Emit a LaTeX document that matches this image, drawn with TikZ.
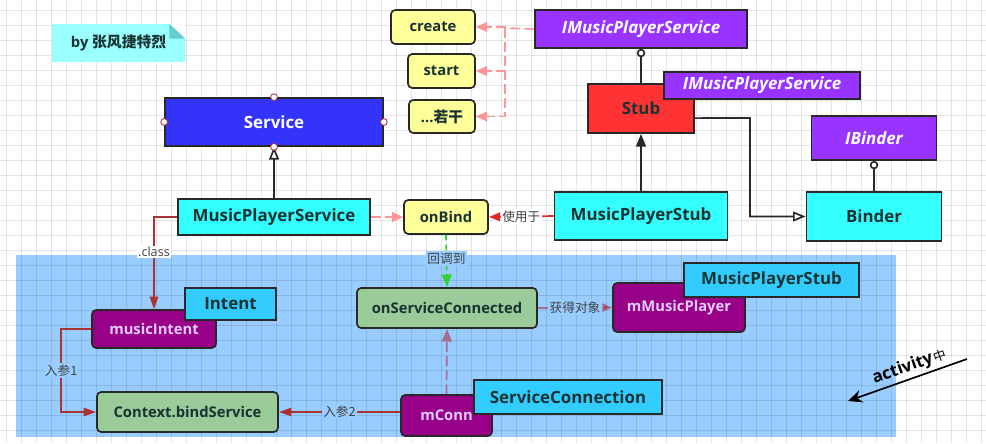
\documentclass[tikz,border=0pt]{standalone}
\usepackage{fontspec}
\setmainfont{Open Sans}
\newfontfamily\cjk{Noto Sans CJK SC}
\usetikzlibrary{arrows.meta,positioning,calc}
\definecolor{areablue}{RGB}{153,204,255}
\definecolor{classblue}{RGB}{51,51,250}
\definecolor{aqua}{RGB}{51,255,255}
\definecolor{noteaqua}{RGB}{153,255,255}
\definecolor{notefold}{RGB}{102,204,204}
\definecolor{methodyellow}{RGB}{255,255,153}
\definecolor{ifacepurple}{RGB}{153,51,255}
\definecolor{stubred}{RGB}{255,51,51}
\definecolor{typesky}{RGB}{51,204,255}
\definecolor{objmagenta}{RGB}{153,0,136}
\definecolor{callgreen}{RGB}{153,204,153}
\definecolor{inktext}{RGB}{25,50,50}
\definecolor{edgeline}{RGB}{40,40,40}
\definecolor{pinkline}{RGB}{255,150,150}
\definecolor{darkredline}{RGB}{170,50,50}
\definecolor{useline}{RGB}{230,40,40}
\definecolor{mauveline}{RGB}{165,110,145}
\definecolor{callline}{RGB}{51,210,51}
\definecolor{lightlilac}{RGB}{225,205,255}

\begin{document}
\begin{tikzpicture}[x=1cm, y=-1cm,
    wh/.style 2 args={minimum width=#1cm, minimum height=#2cm},
    box/.style={draw=edgeline, line width=1.2pt, inner sep=0pt, text=inktext,
      font=\bfseries\fontsize{12}{14}\selectfont},
    class/.style={box, fill=aqua},
    iface/.style={box, fill=ifacepurple, text=white,
      font=\bfseries\itshape\fontsize{12}{14}\selectfont},
    method/.style={box, fill=methodyellow, rounded corners=3pt,
      font=\bfseries\fontsize{10.5}{12}\selectfont},
    call/.style={method, fill=callgreen},
    object/.style={method, fill=objmagenta, text=lightlilac},
    typetag/.style={box, fill=typesky},
    edgelabel/.style={font=\cjk\fontsize{9}{11}\selectfont, text=black!75, inner sep=1pt},
    uml/.style={draw=edgeline, line width=1.2pt},
    hollowtip/.style={uml, -{Triangle[open, length=9pt, width=7pt, fill=white]}},
    solidtip/.style={uml, -{Triangle[length=9pt, width=7pt]}},
    lollipop/.style={uml, {Circle[open, length=6pt, width=6pt, fill=white]}-},
    pinkdash/.style={draw=pinkline, line width=1.2pt, dash pattern=on 7pt off 3pt},
    pinktip/.style={-{Triangle[length=8pt, width=7pt]}},
    refline/.style={draw=darkredline, line width=1.2pt, -{Triangle[length=9pt, width=6pt]}}]

  \useasboundingbox (0,0) rectangle (24.65,11.075);
  \fill[white] (0,0) rectangle (24.65,11.075);

  % activity area
  \fill[areablue] (0.4,6.375) rectangle (22.4,10.925);

  % background grid
  \foreach \k in {0,...,65}
    \draw[black, draw opacity=0.1, line width=0.5pt] ({0.15+0.375*\k},0) -- ++(0,11.075);
  \foreach \k in {0,...,28}
    \draw[black, draw opacity=0.1, line width=0.5pt] (0,{0.25+0.375*\k}) -- ++(24.65,0);

  % credit note
  \node[fill=noteaqua, wh={3.325}{0.95}, text=inktext,
    font=\bfseries\fontsize{10.5}{12}\selectfont] (credit) at (2.9625,1.075) {by {\cjk 张风捷特烈}};
  \fill[white] ([xshift=-0.4cm]credit.north east) -- (credit.north east) -- ([yshift=-0.375cm]credit.north east) -- cycle;
  \fill[notefold] ([xshift=-0.4cm]credit.north east) -- ([yshift=-0.375cm]credit.north east) -- ([shift={(-0.4cm,-0.375cm)}]credit.north east) -- cycle;

  % classes
  \node[box, fill=classblue, text=white, wh={5.45}{1.2}] (service) at (6.85,3.05) {Service};
  \node[class, wh={4.8}{0.9}] (mps) at (6.85,5.425) {MusicPlayerService};
  \node[iface, wh={5.3}{0.95}] (imps) at (16.025,0.725) {IMusicPlayerService};
  \node[box, fill=stubred, wh={2.65}{1.225}] (stub) at (16.025,2.7125) {Stub};
  \node[iface, wh={4.9}{0.675}] (impstag) at (19.05,2.1375) {IMusicPlayerService};
  \node[iface, wh={3.125}{1.1}] (ibinder) at (21.85,3.45) {IBinder};
  \node[class, wh={3.375}{1.225}] (binder) at (21.85,5.4125) {Binder};
  \node[class, wh={4.325}{1.2}] (mpstub) at (16.025,5.4) {MusicPlayerStub};

  % methods
  \node[method, wh={2.1}{0.85}] (create) at (10.825,0.675) {create};
  \node[method, wh={1.675}{0.85}] (start) at (11.0375,1.775) {start};
  \node[method, wh={1.65}{0.825}] (more) at (11.05,2.9125) {...{\cjk 若干}};
  \node[method, wh={2.1}{0.85}] (onbind) at (11.15,5.425) {onBind};

  % inside activity
  \node[object, wh={3.1}{0.95}] (mi) at (3.85,8.225) {musicIntent};
  \node[typetag, wh={2.275}{0.8}] (intent) at (5.7625,7.6) {Intent};
  \node[call, wh={4.525}{1.0}] (ctx) at (4.6875,10.3) {Context.bindService};
  \node[call, wh={4.5}{1.0}] (osc) at (11.175,7.7) {onServiceConnected};
  \node[object, wh={3.3}{1.225}] (mmp) at (16.975,7.6875) {mMusicPlayer};
  \node[typetag, wh={4.375}{0.85}] (mpstubtag) at (19.2875,7.0) {MusicPlayerStub};
  \node[object, wh={2.275}{1.025}] (mconn) at (11.1625,10.3875) {mConn};
  \node[typetag, wh={4.7}{0.85}] (conntag) at (14.2,9.925) {ServiceConnection};

  % class relations
  \draw[hollowtip] (mps.north) -- (service.south);
  \draw[solidtip] (mpstub.north) -- (stub.south);
  \draw[lollipop] (imps.south) -- (stub.north);
  \draw[hollowtip] ([yshift=-0.24cm]stub.east) -- (18.75,2.95) |- (binder.west);
  \draw[lollipop] (ibinder.south) -- (binder.north);
  \foreach \a in {north,south,east,west}
    \draw[darkredline, fill=white, line width=0.6pt] (service.\a) circle (0.085);

  % IMusicPlayerService methods
  \coordinate (fan) at (12.625,0.7);
  \draw[pinkdash] (imps.west) -- (fan);
  \foreach \m in {create,start,more}
    \draw[pinkdash, pinktip, pinkline] (fan) |- (\m.east);
  \draw[pinkdash, pinktip, pinkline] (mps.east) -- (onbind.west);
  \draw[draw=useline, line width=1.2pt, -{Triangle[length=8pt, width=6pt]}, useline]
    (mpstub.west) -- node[edgelabel, fill=white] {使用于} (onbind.east);

  % binding flow
  \draw[refline, darkredline] (mps.west) -| node[pos=0.69, edgelabel, font=\fontsize{9}{11}\selectfont, fill=white, inner sep=0.5pt] {.class} (mi.north);
  \draw[refline, darkredline] (mi.west) -- ++(-0.75,0) |- node[pos=0.25, edgelabel, fill=areablue] {入参1} (ctx.west);
  \draw[refline, darkredline] (mconn.west |- ctx.east) -- node[edgelabel, fill=areablue] {入参2} (ctx.east);
  \draw[draw=callline, fill=callline, line width=1.2pt, dash pattern=on 4pt off 3pt, -{Triangle[length=9pt, width=7pt]}]
    (onbind.south) -- node[edgelabel, fill=areablue, pos=0.45] {回调到} (osc.north);
  \draw[draw=mauveline, fill=mauveline, line width=1.2pt, dash pattern=on 7pt off 3pt, -{Triangle[length=9pt, width=7pt]}]
    (mconn.north) -- (osc.south);
  \draw[draw=mauveline, line width=1.2pt, -{Triangle[length=7pt, width=6pt, fill=darkredline]}]
    (osc.east) -- node[edgelabel, fill=areablue] {获得对象} (mmp.west);

  % activity pointer
  \coordinate (actfrom) at (24.175,8.975);
  \coordinate (actto) at (21.2,10.025);
  \draw[line width=1.2pt, -{Stealth[length=10pt, width=9pt]}] (actfrom) -- node[pos=0.45, sloped, above, inner sep=2pt,
    font=\bfseries\fontsize{12}{14}\selectfont] {activity\hspace{1pt}{\cjk\mdseries\fontsize{9}{11}\selectfont 中}} (actto);
\end{tikzpicture}
\end{document}
